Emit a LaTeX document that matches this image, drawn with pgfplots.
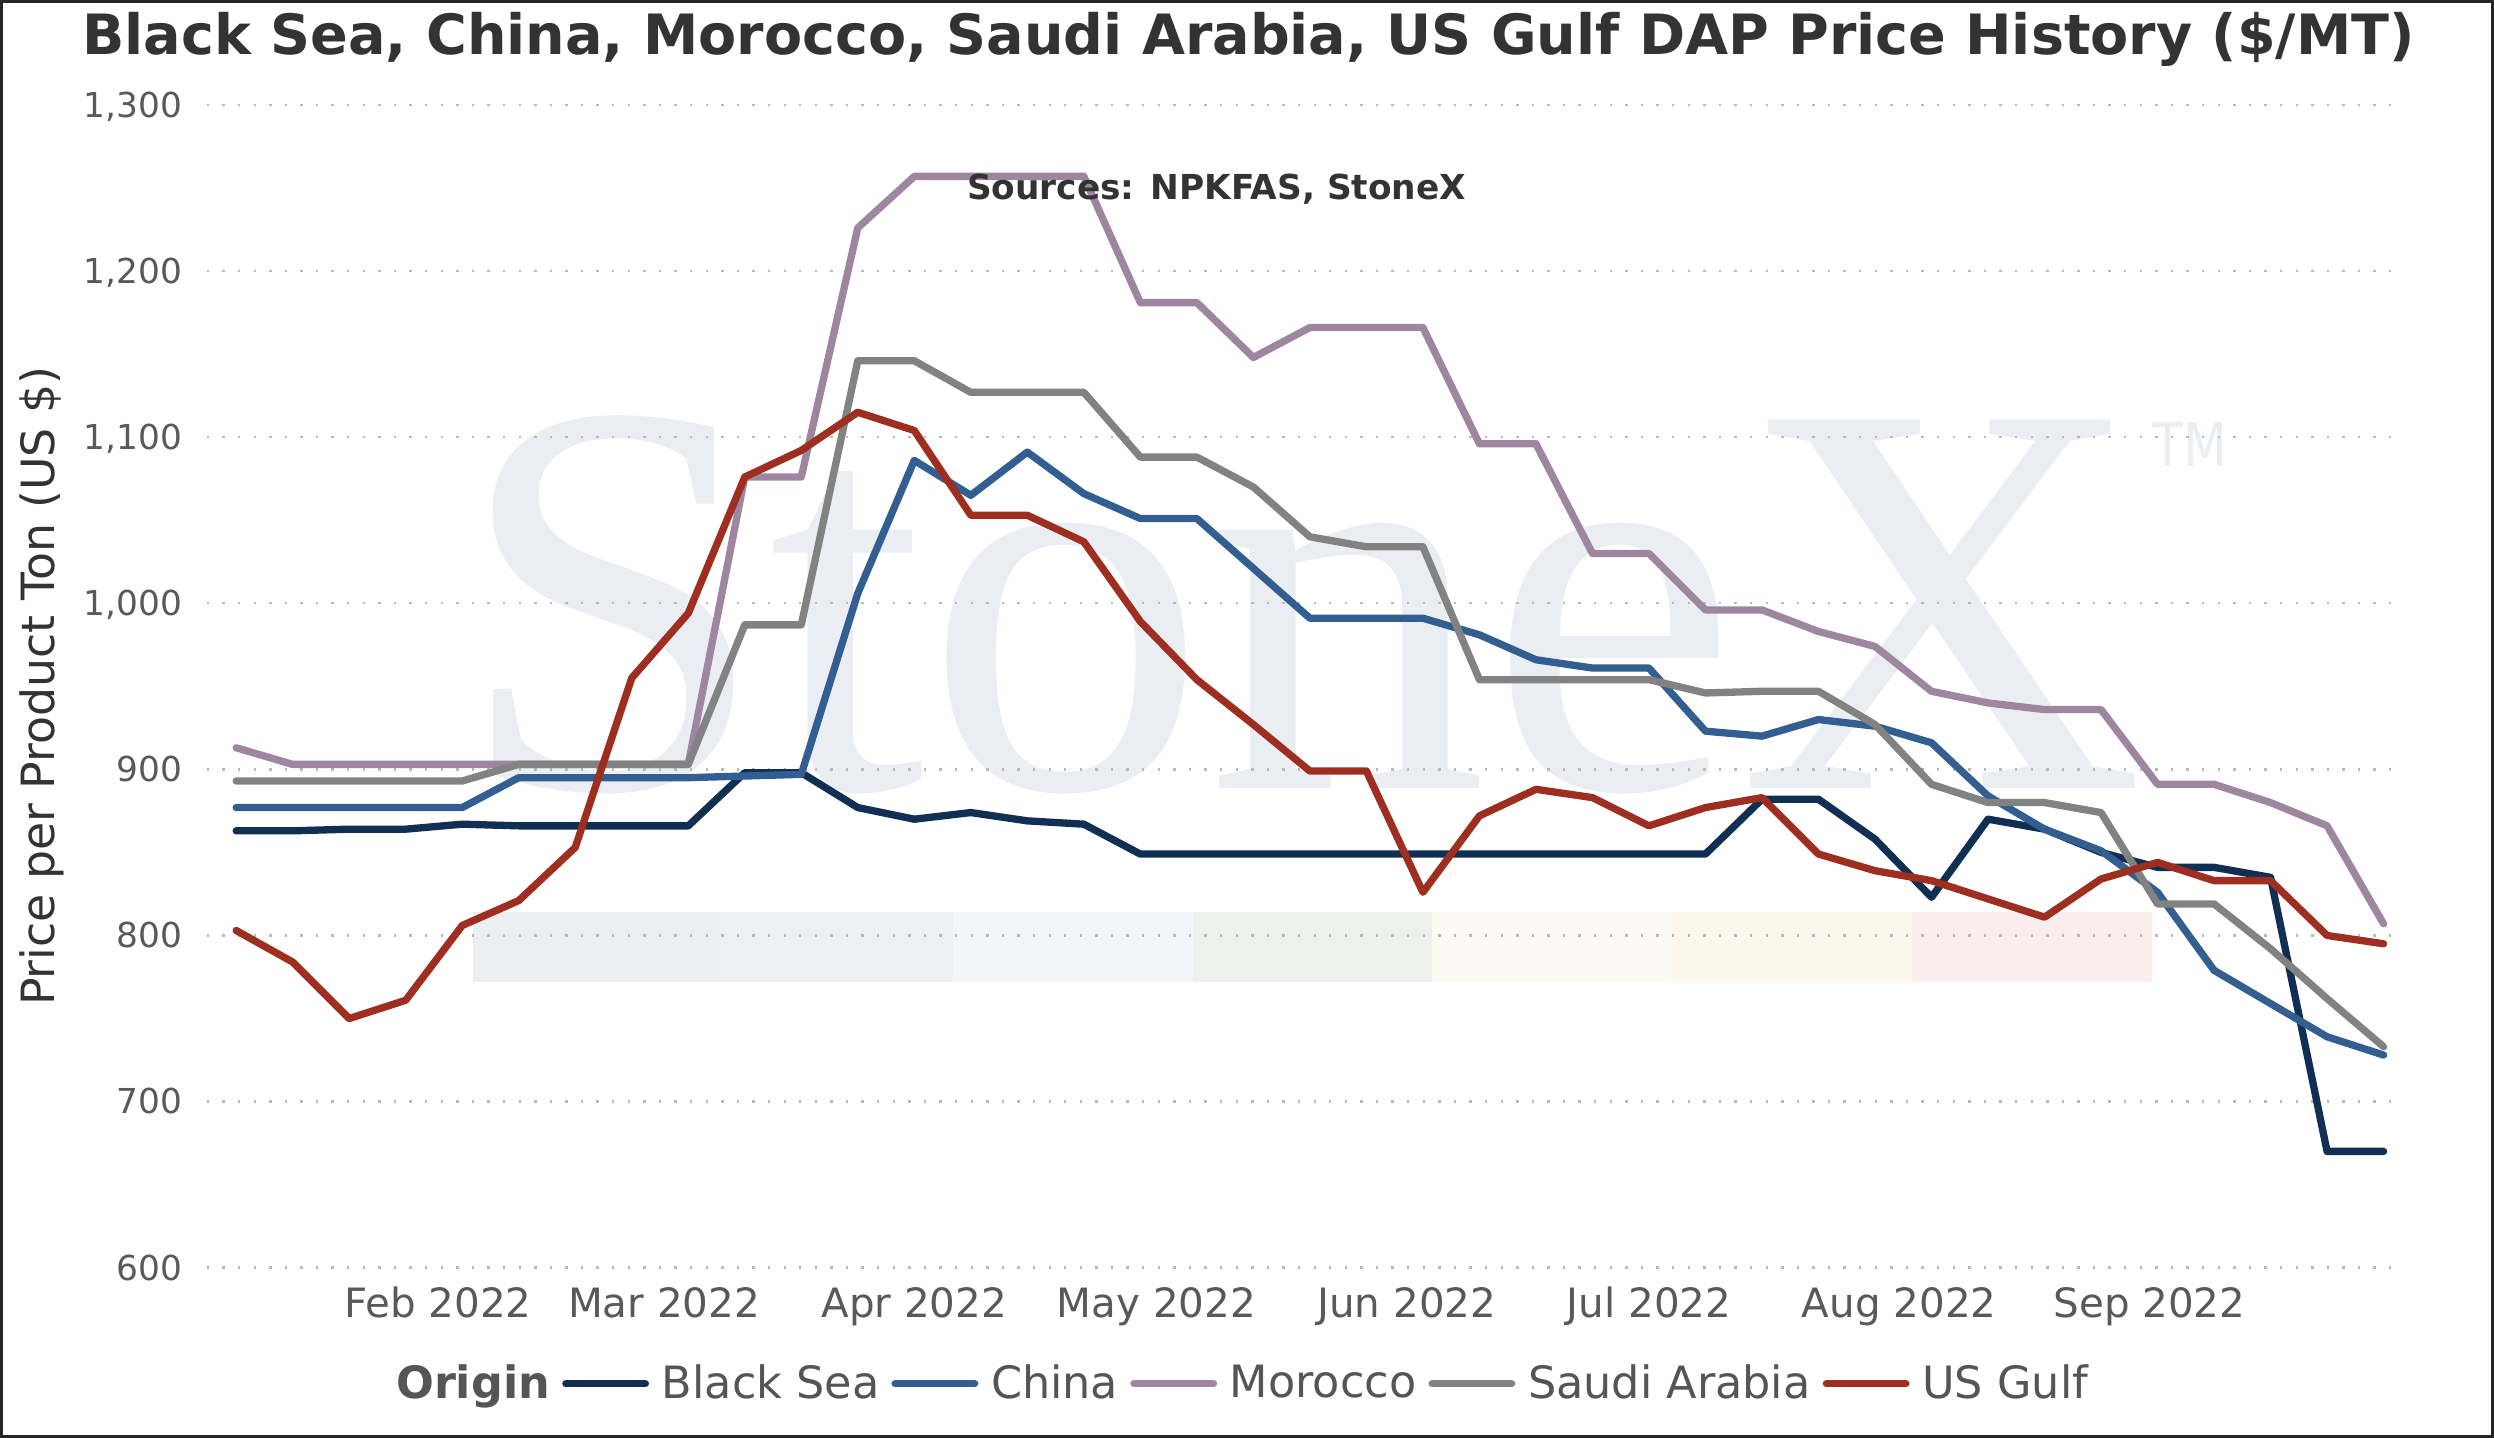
\documentclass[border=0pt]{standalone}
\usepackage{fontspec}
\setmainfont{DejaVu Sans}
\newfontfamily\wmfont{Liberation Serif}
\usepackage{pgfplots}
\usepackage{pgfplotstable}
\pgfplotsset{compat=1.18}
\definecolor{cbs}{RGB}{16,47,82}
\definecolor{cch}{RGB}{51,94,145}
\definecolor{cmo}{RGB}{158,134,161}
\definecolor{csa}{RGB}{130,130,130}
\definecolor{cus}{RGB}{158,47,32}
\definecolor{wm}{RGB}{234,238,242}
\definecolor{b1}{RGB}{236,239,242}
\definecolor{b2}{RGB}{237,241,243}
\definecolor{b3}{RGB}{242,246,249}
\definecolor{b4}{RGB}{237,242,239}
\definecolor{b5}{RGB}{252,251,243}
\definecolor{b6}{RGB}{252,247,237}
\definecolor{b7}{RGB}{249,237,238}
\definecolor{txt}{RGB}{51,51,51}
\definecolor{tick}{RGB}{89,89,89}
\definecolor{leg}{RGB}{85,85,85}
\definecolor{gridc}{RGB}{185,185,185}

\pgfplotstableread{
x bs ch mo sa us
-25 863 877 913 893 803
-18 863 877 903 893 784
-11 864 877 903 893 750
-4 864 877 903 893 761
3 867 877 903 893 806
10 866 895 903 903 821
17 866 895 903 903 853
24 866 895 903 903 955
31 866 895 903 903 994
38 898 896 1076 987 1076
45 898 897 1076 987 1092
52 877 1006 1226 1146 1115
59 870 1086 1257 1146 1104
66 874 1065 1257 1127 1053
73 869 1091 1257 1127 1053
80 867 1066 1257 1127 1037
87 849 1051 1181 1088 989
94 849 1051 1181 1088 954
101 849 1021 1148 1070 927
108 849 991 1166 1040 899
115 849 991 1166 1034 899
122 849 991 1166 1034 826
129 849 981 1096 954 872
136 849 966 1096 954 888
143 849 961 1030 954 883
150 849 961 1030 954 866
157 849 923 996 946 877
164 882 920 996 947 883
171 882 930 983 947 849
178 858 926 974 927 839
185 823 916 947 891 833
192 870 884 940 880 822
199 864 864 936 880 811
206 850 851 936 874 834
213 841 826 891 819 844
220 841 779 891 819 833
227 835 759 880 792 833
234 670 739 866 762 800
241 670 728 807 733 795
}\dap

\begin{document}
\begin{tikzpicture}
\useasboundingbox (0,0) rectangle (784pt,452pt);
% decorative band (watermark logo)
\fill[b1] (148.7pt,143.3pt) rectangle ++(75.4pt,21.9pt);
\fill[b2] (224.1pt,143.3pt) rectangle ++(75.4pt,21.9pt);
\fill[b3] (299.5pt,143.3pt) rectangle ++(75.4pt,21.9pt);
\fill[b4] (374.9pt,143.3pt) rectangle ++(75.4pt,21.9pt);
\fill[b5] (450.3pt,143.3pt) rectangle ++(75.4pt,21.9pt);
\fill[b6] (525.7pt,143.3pt) rectangle ++(75.4pt,21.9pt);
\fill[b7] (601.1pt,143.3pt) rectangle ++(75.4pt,21.9pt);
% watermark text
\node[anchor=base west, inner sep=0pt, text=wm, font=\wmfont\fontsize{177}{177}\selectfont] at (143pt,204pt) {StoneX};
\node[anchor=base west, inner sep=0pt, text=wm, font=\fontsize{19}{19}\selectfont] at (676.5pt,305.2pt) {\scalebox{0.84}[1]{TM}};

\begin{axis}[
  at={(65pt,53.5pt)}, anchor=south west,
  scale only axis, width=690pt, height=365.5pt,
  xmin=-28.64, xmax=243.25, ymin=600, ymax=1300,
  axis line style={draw=none},
  major tick length=0pt,
  tick style={draw=none},
  ytick={600,700,...,1300},
  ymajorgrids,
  grid style={gridc, line width=0.75pt, dash pattern=on 0.75pt off 4.15pt},
  xtick={0,28,59,89,120,150,181,212},
  xticklabels={Feb 2022,Mar 2022,Apr 2022,May 2022,Jun 2022,Jul 2022,Aug 2022,Sep 2022},
  /pgf/number format/assume math mode=true,
  /pgf/number format/1000 sep={,},
  yticklabel style={anchor=base east, inner sep=0pt, xshift=-7.5pt, yshift=-3.9pt, text=tick, font=\fontsize{10.8}{12}\selectfont},
  xticklabel style={anchor=base, inner sep=0pt, yshift=-15.8pt, text=tick, font=\fontsize{12.7}{14}\selectfont},
  legend columns=-1,
  legend style={at={(0.4717,-0.0999)}, anchor=center, draw=none, fill=none,
    font=\fontsize{14}{16}\selectfont, text=leg,
    /tikz/every even column/.append style={column sep=1.8pt}},
  legend image code/.code={\draw[#1] (0pt,0pt) -- (25pt,0pt); \path (27pt,0pt);},
  every axis plot/.append style={line width=2.3pt, line join=round, line cap=round},
]
\addlegendimage{empty legend}
\addlegendentry{\textbf{Origin}}
\addplot[cbs] table[x=x,y=bs] {\dap};
\addlegendentry{Black Sea}
\addplot[cch] table[x=x,y=ch] {\dap};
\addlegendentry{China}
\addplot[cmo] table[x=x,y=mo] {\dap};
\addlegendentry{Morocco}
\addplot[csa] table[x=x,y=sa] {\dap};
\addlegendentry{Saudi Arabia}
\addplot[cus] table[x=x,y=us] {\dap};
\addlegendentry{US Gulf}
\end{axis}

\node[anchor=base, inner sep=0pt, text=txt] at (392.5pt,435pt)
  {\resizebox{733pt}{!}{\bfseries Black Sea, China, Morocco, Saudi Arabia, US Gulf DAP Price History (\$/MT)}};
\node[anchor=base west, inner sep=0pt, text=txt, font=\bfseries\fontsize{10.8}{12}\selectfont] at (303.8pt,389.2pt) {Sources: NPKFAS, StoneX};
\node[anchor=base, rotate=90, inner sep=0pt, text=txt, font=\fontsize{14.4}{16}\selectfont] at (17pt,236.25pt) {Price per Product Ton (US \$)};
\draw[black!85, line width=1pt] (0.5pt,0.5pt) rectangle (783.5pt,451.5pt);
\end{tikzpicture}
\end{document}
